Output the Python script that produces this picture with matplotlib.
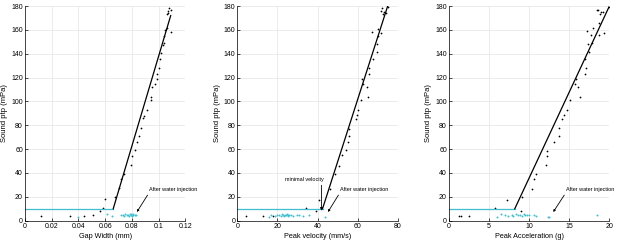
"""Sound ptp vs gap width / peak velocity / peak acceleration (3 panels)."""
import numpy as np
import matplotlib
matplotlib.use("Agg")
import matplotlib.pyplot as plt

plt.rcParams["font.family"] = ["Liberation Sans", "DejaVu Sans"]

CYAN = "#3fbfcf"

# --- panel 1: gap width (mm)
gap_x = [0.0117, 0.034, 0.044, 0.051, 0.056, 0.058, 0.060, 0.067, 0.070, 0.072,
         0.074, 0.079, 0.080, 0.082, 0.084, 0.085, 0.087, 0.088, 0.089, 0.091,
         0.094, 0.094, 0.095, 0.097, 0.099, 0.099, 0.100, 0.101, 0.102, 0.103,
         0.104, 0.104, 0.105, 0.106, 0.106, 0.107, 0.108, 0.107, 0.109, 0.109]
gap_y = [4.2, 3.8, 4.0, 4.5, 8.0, 11.0, 18.0, 20.0, 27.0, 35.0,
         39.0, 47.0, 54.0, 59.0, 66.0, 71.0, 78.0, 86.0, 88.0, 93.0,
         101.0, 104.0, 112.0, 115.0, 119.0, 123.0, 128.0, 136.0, 141.0, 147.0,
         149.0, 155.0, 160.0, 162.0, 173.0, 176.0, 178.0, 174.0, 177.0, 158.0]
gap_wx = [0.040, 0.061, 0.065, 0.072, 0.073, 0.074, 0.075, 0.076, 0.077, 0.078,
          0.0785, 0.079, 0.0795, 0.080, 0.0805, 0.081, 0.082, 0.083]
gap_wy = [2.8, 5.5, 4.0, 4.5, 5.0, 4.0, 5.5, 4.5, 5.0, 4.0,
          5.5, 4.5, 6.0, 4.0, 5.0, 5.5, 4.5, 5.0]
gap_knee, gap_end = (0.066, 10), (0.109, 172)

# --- panel 2: peak velocity (mm/s)
vel_x = [4.2, 13, 18, 34.2, 39, 40.7, 46, 48.8, 50.8, 52.2, 54.2, 55.2, 55.8,
         55.5, 59.2, 59.7, 60, 61.8, 62.7, 62.2, 64.7, 65, 65.5, 65.8, 67.7,
         69.5, 69.8, 70, 70.2, 67.2, 71.8, 71.7, 72.2, 72.7, 74.3, 75.2, 73]
vel_y = [4.2, 4, 4, 11, 8, 17, 26.5, 39, 46, 55, 59, 66, 71,
         77, 85.5, 88.6, 93, 101.5, 115, 119, 112, 104, 122.7, 128, 136,
         141.7, 148, 155, 161, 158, 157, 176, 178, 173, 174, 179.5, 175]
vel_wx = [16, 17, 19, 20, 21, 22, 22.5, 23, 23.5, 24, 24.5, 25, 25.2, 25.5,
          26, 27, 28, 30, 31, 33, 36, 43.5]
vel_wy = [3.5, 4.5, 4, 5, 4.5, 4, 5.5, 5, 4, 5, 4.5, 5.5, 4, 5,
          4.5, 5, 4, 4.5, 5, 4, 5, 3]
vel_knee, vel_end = (42.5, 10), (75, 180)

# --- panel 3: peak acceleration (g)
acc_x = [1.3, 1.45, 2.5, 7.2, 5.7, 9.0, 9.1, 10.3, 10.6, 10.8, 12.1, 12.2, 12.2,
         13.05, 13.7, 13.7, 14.1, 14.3, 14.7, 15.1, 15.7, 15.8, 16.1, 16.3, 16.9,
         17.1, 17.0, 17.4, 17.3, 17.8, 17.25, 17.9, 17.7, 18.7, 19.3, 18.4, 18.6,
         18.8, 19.0, 18.7, 19.9, 19.2]
acc_y = [4.2, 4.0, 3.6, 17.3, 11, 7.8, 20, 26.5, 35, 39, 46.4, 54, 58.7,
         66, 71, 78, 85.5, 88.6, 93, 101.5, 115, 119, 112, 104, 122.7,
         128, 136, 141.7, 148, 149, 159.3, 161.8, 156, 155.7, 157, 177, 176.6,
         173, 175, 166, 179.4, 175]
acc_wx = [6.0, 6.5, 7.0, 7.4, 7.8, 8.0, 8.3, 8.6, 8.9, 9.1, 9.3, 9.5, 9.7,
          10.0, 10.6, 10.8, 12.3, 12.5, 18.5]
acc_wy = [3.5, 5.5, 4.5, 4, 5, 4, 5.5, 4.5, 5, 4, 5.5, 4.5, 5,
          4.5, 5, 4, 3.5, 3.5, 5]
acc_knee, acc_end = (8.2, 10), (20, 180)

PANELS = [
    dict(x=gap_x, y=gap_y, wx=gap_wx, wy=gap_wy, knee=gap_knee, end=gap_end,
         xlim=(0, 0.12), xticks=np.arange(0, 0.121, 0.02), xlabel="Gap Width (mm)",
         fmt=lambda v, _: "0" if v == 0 else f"{v:g}",
         water=((0.093, 23.8), (0.0837, 7.3)), minimal=None),
    dict(x=vel_x, y=vel_y, wx=vel_wx, wy=vel_wy, knee=vel_knee, end=vel_end,
         xlim=(0, 80), xticks=np.arange(0, 81, 20), xlabel="Peak velocity (mm/s)",
         fmt=lambda v, _: f"{v:g}",
         water=((51.3, 23.8), (45.2, 7.3)), minimal=((23.8, 32.7), (42, 8.4))),
    dict(x=acc_x, y=acc_y, wx=acc_wx, wy=acc_wy, knee=acc_knee, end=acc_end,
         xlim=(0, 20), xticks=np.arange(0, 21, 5), xlabel="Peak Acceleration (g)",
         fmt=lambda v, _: f"{v:g}",
         water=((14.6, 23.8), (13.0, 7.3)), minimal=None),
]

lefts = [0.0405, 0.3846, 0.7277]
fig = plt.figure(figsize=(6.17, 2.47), dpi=100)
for left, p in zip(lefts, PANELS):
    ax = fig.add_axes([left, 0.1065, 0.26, 0.869])
    ax.plot([p["xlim"][0], p["knee"][0]], [p["knee"][1]] * 2, color=CYAN, lw=0.9)
    ax.plot([p["knee"][0], p["end"][0]], [p["knee"][1], p["end"][1]], color="k", lw=0.9)
    ax.scatter(p["x"], p["y"], s=1.6, color="k", lw=0)
    ax.scatter(p["wx"], p["wy"], s=2.0, color=CYAN, lw=0)
    (tx, ty), (hx, hy) = p["water"]
    ax.annotate("After water injection", xy=(hx, hy), xytext=(tx, ty),
                fontsize=4, ha="left", va="bottom",
                arrowprops=dict(arrowstyle="-|>", lw=0.6, color="k",
                                mutation_scale=3, shrinkA=0, shrinkB=0,
                                relpos=(0, 0)))
    if p["minimal"]:
        (tx, ty), (hx, hy) = p["minimal"]
        ax.text(tx, ty, "minimal velocity", fontsize=4, ha="left", va="bottom")
        ax.annotate("", xy=(hx, hy), xytext=(hx, ty - 3),
                    arrowprops=dict(arrowstyle="-|>", lw=0.6, color="k",
                                    mutation_scale=4, shrinkA=0, shrinkB=0))
    ax.set_xlim(*p["xlim"])
    ax.set_ylim(0, 180)
    ax.set_xticks(p["xticks"])
    ax.set_yticks(np.arange(0, 181, 20))
    ax.xaxis.set_major_formatter(p["fmt"])
    ax.set_xlabel(p["xlabel"], fontsize=5.2, labelpad=2)
    ax.set_ylabel("Sound ptp (mPa)", fontsize=5.5, labelpad=2)
    ax.tick_params(direction="in", length=2, width=0.5, labelsize=5, pad=1.5)
    for s in ("top", "right"):
        ax.spines[s].set_visible(False)
    for s in ("left", "bottom"):
        ax.spines[s].set_linewidth(0.5)
    ax.grid(True, color="#e4e4e4", lw=0.5)
    ax.set_axisbelow(True)

fig.savefig("out.png", dpi=100)
